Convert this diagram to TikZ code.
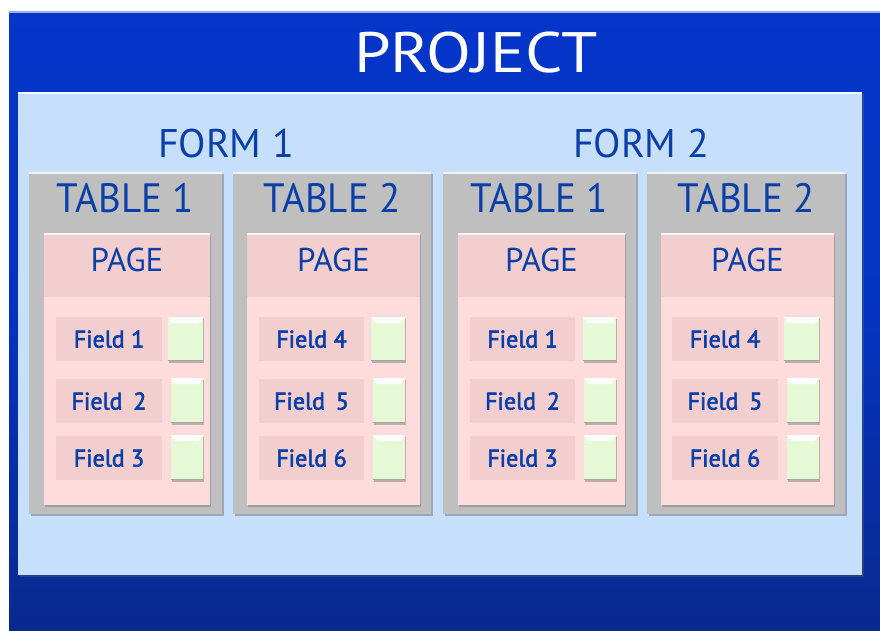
\documentclass[tikz,border=0pt]{standalone}
\usepackage{fontspec}
\setmainfont{PT Sans}
\newfontfamily\fieldfont[FakeBold=2.5]{PT Sans}
\usetikzlibrary{shadows}
\definecolor{txtblue}{HTML}{0B3FA8}
\definecolor{outertop}{HTML}{0535C9}
\definecolor{outerbot}{HTML}{08298E}
\definecolor{panelblue}{HTML}{C5DFFD}
\definecolor{tablegray}{HTML}{BFBFBF}
\definecolor{pagepink}{HTML}{FDDCDB}
\definecolor{headpink}{HTML}{F2CFCE}
\definecolor{chkgreen}{HTML}{E6F9D6}
\tikzset{
  box/.style={inner sep=0pt, outer sep=0pt, draw=none},
  outerbox/.style={box, top color=outertop, bottom color=outerbot, middle color=outertop!85!outerbot},
  panelbox/.style={box, fill=panelblue, drop shadow={shadow xshift=1.5pt, shadow yshift=-2pt, fill=black!60, opacity=0.35}},
  tablebox/.style={box, fill=tablegray, drop shadow={shadow xshift=1.5pt, shadow yshift=-2pt, fill=black!60, opacity=0.45}},
  pagebox/.style={box, fill=pagepink, drop shadow={shadow xshift=1pt, shadow yshift=-2pt, fill=black!60, opacity=0.35}},
  headbox/.style={box, fill=headpink},
  lblbox/.style={box, fill=headpink},
  chkbox/.style={box, fill=chkgreen, drop shadow={shadow xshift=1pt, shadow yshift=-2pt, fill=black!60, opacity=0.4}},
  hilite/.style={draw=white, line width=2pt, opacity=0.8},
  titletxt/.style={inner sep=0pt, anchor=base, text=white, font=\fontsize{57}{60}\selectfont},
  formtxt/.style={inner sep=0pt, anchor=base, text=txtblue, font=\fontsize{40}{44}\selectfont},
  tabletxt/.style={inner sep=0pt, anchor=base, text=txtblue, font=\fontsize{41}{44}\selectfont},
  pagetxt/.style={inner sep=0pt, anchor=base, text=txtblue, font=\fontsize{33}{36}\selectfont},
  fieldtxt/.style={inner sep=0pt, anchor=base, text=txtblue, font=\fieldfont\fontsize{24}{26}\selectfont},
}
\newcommand{\rbox}[6]{%
  \node[#2, minimum width={(#5-#3)*1pt}, minimum height={(#6-#4)*1pt}] (#1) at ({(#3+#5)/2},{(#4+#6)/2}) {};}
\begin{document}
\begin{tikzpicture}[x=1pt,y=-1pt]
\useasboundingbox (0,0) rectangle (880,631);
\fill[white] (0,0) rectangle (880,631);
% outer project box
\rbox{proj}{outerbox}{9}{12}{880}{631}
\draw[draw=white!60!outertop, line width=1.5pt] (proj.north west) -- (proj.north east);
\node[titletxt, xscale=1.15] (projtitle) at (476,73) {PROJECT};
% light blue panel
\rbox{panel}{panelbox}{18}{92}{862}{575}
\draw[hilite, line width=2.5pt] ([yshift=-1.25pt]panel.north west) -- ([yshift=-1.25pt]panel.north east);
\node[formtxt] (form1) at (226,158) {FORM 1};
\node[formtxt] (form2) at (641,158) {FORM 2};
% tables
\foreach \n/\ta/\tb/\pa/\pb/\la/\lb/\gA/\gB/\gb/\tn/\fa/\fb/\fc in {
  1/29/222/44/210/56/162/168/171/203/1/{Field 1}/{Field\hspace{0.45em}2}/{Field 3},
  2/233/431/247/420/259/364/371/373/405/2/{Field 4}/{Field\hspace{0.45em}5}/{Field 6},
  3/443/636/458/625/470/575/583/584/616/1/{Field 1}/{Field\hspace{0.45em}2}/{Field 3},
  4/647/845/661/834/672/778/784/787/819/2/{Field 4}/{Field\hspace{0.45em}5}/{Field 6}}{
  \rbox{tab\n}{tablebox}{\ta}{172}{\tb}{514}
  \draw[hilite] ([yshift=-1pt]tab\n.north west) -- ([yshift=-1pt]tab\n.north east);
  \node[tabletxt, xscale=0.95] (tabtitle\n) at ({(\ta+\tb)/2},212) {TABLE \tn};
  \rbox{page\n}{pagebox}{\pa}{233}{\pb}{505}
  \rbox{head\n}{headbox}{\pa}{233}{\pb}{297}
  \draw[hilite, line width=1.5pt] ([yshift=-0.75pt]head\n.north west) -- ([yshift=-0.75pt]head\n.north east);
  \node[pagetxt] (pagetitle\n) at ({(\pa+\pb)/2},271) {PAGE};
  % rows
  \rbox{lbl\n a}{lblbox}{\la}{317}{\lb}{361}
  \rbox{lbl\n b}{lblbox}{\la}{379}{\lb}{423}
  \rbox{lbl\n c}{lblbox}{\la}{436}{\lb}{480}
  \node[fieldtxt] (ftxt\n a) at ({(\la+\lb)/2},347.5) {\fa};
  \node[fieldtxt] (ftxt\n b) at ({(\la+\lb)/2},409.5) {\fb};
  \node[fieldtxt] (ftxt\n c) at ({(\la+\lb)/2},466.5) {\fc};
  \rbox{chk\n a}{chkbox}{\gA}{317}{\gb}{361}
  \rbox{chk\n b}{chkbox}{\gB}{378}{\gb}{423}
  \rbox{chk\n c}{chkbox}{\gB}{435}{\gb}{480}
  \foreach \r in {a,b,c}{
    \fill[white] (chk\n\r.north west) -- (chk\n\r.north east) -- ([xshift=-4pt,yshift=-6pt]chk\n\r.north east) -- ([xshift=4pt,yshift=-6pt]chk\n\r.north west) -- cycle;
    \draw[black!35, line width=1.2pt] ([yshift=0.6pt]chk\n\r.south west) -- ([yshift=0.6pt]chk\n\r.south east);
  }
}
\end{tikzpicture}
\end{document}
